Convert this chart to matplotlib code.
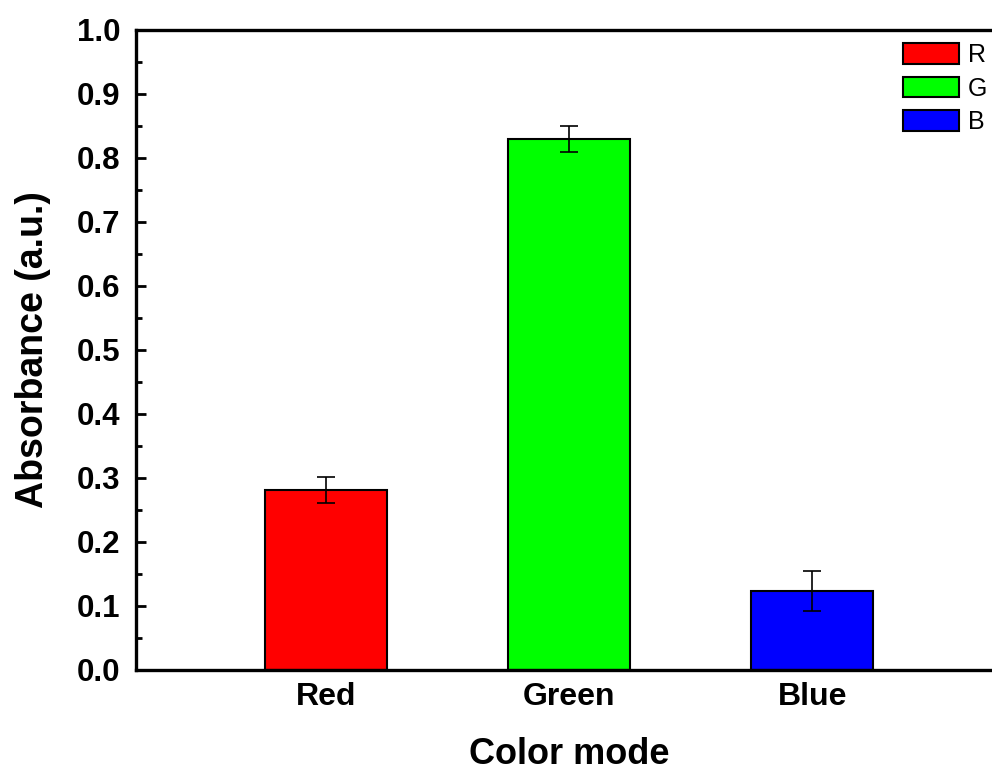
import numpy as np
import matplotlib.pyplot as plt

plt.rcParams['font.family'] = ['Liberation Sans', 'DejaVu Sans']

# Absorbance per colour mode
modes = ['Red', 'Green', 'Blue']
absorbance = [0.281, 0.830, 0.123]
errors = [0.020, 0.020, 0.031]
legend_labels = ['R', 'G', 'B']
colors = ['#FF0000', '#00FF00', '#0000FF']

fig = plt.figure(figsize=(9.92, 7.67), dpi=100)
ax = fig.add_axes([0.1371, 0.1265, 0.873, 0.8344])

x = np.arange(len(modes))
bars = ax.bar(x, absorbance, width=0.5, color=colors, edgecolor='black',
              linewidth=1.5, zorder=2)
ax.errorbar(x, absorbance, yerr=errors, fmt='none', ecolor='black',
            elinewidth=1.2, capsize=6.5, capthick=1.2, zorder=3)

ax.set_xlim(-0.78, 2.78)
ax.set_ylim(0, 1.0)
ax.set_yticks(np.arange(0, 1.01, 0.1))
ax.set_yticks(np.arange(0.05, 1.0, 0.1), minor=True)
ax.set_xticks(x)
ax.set_xticklabels(modes)

for s in ax.spines.values():
    s.set_linewidth(2.4)

ax.tick_params(axis='y', which='major', direction='in', length=7, width=2,
               labelsize=22.5, pad=11)
ax.tick_params(axis='y', which='minor', direction='in', length=4, width=2)
ax.tick_params(axis='x', length=0, labelsize=23, pad=9)
for lab in ax.get_xticklabels() + ax.get_yticklabels():
    lab.set_fontweight('bold')

ax.set_ylabel('Absorbance (a.u.)', fontsize=27, fontweight='bold', labelpad=19)
ax.set_xlabel('Color mode', fontsize=26, fontweight='bold', labelpad=18)

ax.legend(bars, legend_labels, loc='upper left', bbox_to_anchor=(903 / 992, 1 - 43 / 767),
          bbox_transform=fig.transFigure, frameon=False, fontsize=18,
          borderpad=0, borderaxespad=0, handlelength=2.25, handleheight=0.9,
          labelspacing=0.38, handletextpad=0.35)

fig.savefig('out.png', dpi=100)
